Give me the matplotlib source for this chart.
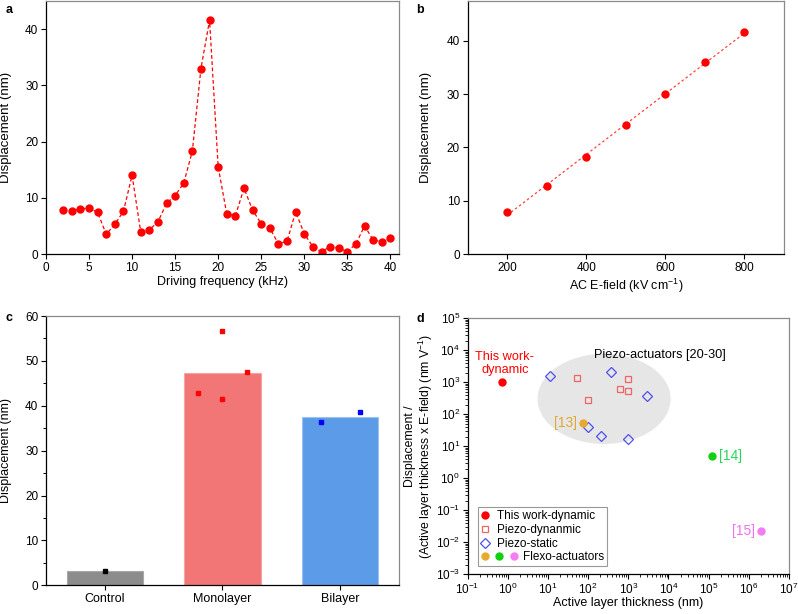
import matplotlib
matplotlib.use('Agg')
import matplotlib.pyplot as plt
import numpy as np
from matplotlib.patches import Ellipse
from matplotlib.lines import Line2D
from matplotlib.legend_handler import HandlerBase
from matplotlib.ticker import MultipleLocator, LogLocator, NullFormatter

plt.rcParams['font.family'] = ['Liberation Sans', 'DejaVu Sans']
plt.rcParams['font.size'] = 8
plt.rcParams['mathtext.fontset'] = 'custom'
plt.rcParams['mathtext.rm'] = 'Liberation Sans'
plt.rcParams['mathtext.it'] = 'Liberation Sans:italic'
plt.rcParams['mathtext.bf'] = 'Liberation Sans:bold'

# ---------------- data ----------------
# panel a
freq_khz = [2, 3, 4, 5, 6, 7, 8, 9, 10, 11, 12, 13, 14, 15, 16, 17, 18, 19, 20,
            21, 22, 23, 24, 25, 26, 27, 28, 29, 30, 31, 32, 33, 34, 35, 36, 37, 38, 39, 40]
disp_freq = [7.8, 7.7, 8.0, 8.2, 7.4, 3.5, 5.3, 7.6, 14.0, 4.0, 4.3, 5.7, 9.0, 10.4,
             12.6, 18.3, 33.0, 41.6, 15.5, 7.1, 6.8, 11.7, 7.8, 5.4, 4.6, 1.8, 2.3,
             7.5, 3.6, 1.3, 0.4, 1.3, 1.1, 0.4, 1.8, 5.0, 2.5, 2.2, 2.8]
# panel b
efield = [200, 300, 400, 500, 600, 700, 800]
disp_field = [7.9, 12.7, 18.2, 24.2, 30.1, 36.0, 41.6]
# panel c
bar_categories = ['Control', 'Monolayer', 'Bilayer']
bar_means = [3.3, 47.3, 37.6]
ctrl_pts = [3.2]
mono_pts = [42.8, 56.7, 41.6, 47.6]
bi_pts = [36.4, 38.7]
# panel d
this_work_x = [0.7]
this_work_y = [1000]
piezo_dyn_x = [54, 100, 620, 1000, 1000]
piezo_dyn_y = [1380, 286, 630, 1240, 525]
piezo_static_x = [11, 370, 3000, 100, 210, 1000]
piezo_static_y = [1580, 2050, 365, 40, 21, 17]
flexo_labels = ['[13]', '[14]', '[15]']
flexo_x = [74, 1.2e5, 2.0e6]
flexo_y = [55, 4.8, 0.023]

# ---------------- figure ----------------
fig = plt.figure(figsize=(7.98, 6.14), dpi=100)

LBL = 9

def style_spines(ax):
    for s in ['top', 'right']:
        ax.spines[s].set_color('#8a8a8a')
    for s in ['left', 'bottom']:
        ax.spines[s].set_color('black')
    for s in ax.spines.values():
        s.set_linewidth(0.9)
    ax.tick_params(direction='out', length=3.5, width=0.8, labelsize=8.5,
                   top=False, right=False, pad=2)

red = '#ff0000'

# panel a
axa = fig.add_axes([0.0576, 0.5863, 0.4424, 0.412])
axa.plot(freq_khz, disp_freq, ls='--', color=red, lw=0.9, marker='o', ms=5,
         mfc=red, mec=red, dashes=(3, 2))
axa.set_xlim(0, 41)
axa.set_ylim(0, 45)
axa.xaxis.set_major_locator(MultipleLocator(5))
axa.yaxis.set_major_locator(MultipleLocator(10))
axa.set_xlabel('Driving frequency (kHz)', fontsize=LBL)
axa.set_ylabel('Displacement (nm)', fontsize=9.5)
axa.xaxis.set_label_coords(0.5, -0.087)
axa.yaxis.set_label_coords(-0.095, 0.5)
style_spines(axa)

# panel b
axb = fig.add_axes([0.586, 0.5863, 0.3964, 0.412])
coef = np.polyfit(efield, disp_field, 1)
xf = np.array([efield[0], efield[-1]])
axb.plot(xf, np.polyval(coef, xf), ls=(0, (2, 2)), color='#ff4040', lw=0.9)
axb.plot(efield, disp_field, ls='', marker='o', ms=5, color=red)
axb.set_xlim(100, 900)
axb.set_ylim(0, 47.5)
axb.xaxis.set_major_locator(MultipleLocator(200))
axb.yaxis.set_major_locator(MultipleLocator(10))
axb.set_xlabel('AC E-field (kV cm$^{-1}$)', fontsize=LBL)
axb.set_ylabel('Displacement (nm)', fontsize=9.5)
axb.xaxis.set_label_coords(0.5, -0.09)
axb.yaxis.set_label_coords(-0.112, 0.5)
style_spines(axb)

# panel c
axc = fig.add_axes([0.0576, 0.0467, 0.4424, 0.4386])
xpos = np.arange(len(bar_categories))
bar_colors = ['#8c8c8c', '#f27676', '#5c9be8']
bar_edges = ['#a8a8a8', '#f6a3a3', '#9cc2f0']
axc.bar(xpos, bar_means, width=0.65, color=bar_colors, edgecolor=bar_edges, lw=0.8)
axc.plot([xpos[0]] * len(ctrl_pts), ctrl_pts, 's', color='black', ms=3.5)
axc.plot(xpos[1] + np.array([-0.21, 0.0, 0.0, 0.21]), mono_pts, 's', color=red, ms=3.5)
axc.plot(xpos[2] + np.array([-0.16, 0.165]), bi_pts, 's', color='#0000ff', ms=3.5)
axc.set_xlim(-0.5, 2.5)
axc.set_ylim(0, 60)
axc.set_xticks(xpos)
axc.yaxis.set_major_locator(MultipleLocator(10))
axc.yaxis.set_minor_locator(MultipleLocator(5))
style_spines(axc)
axc.set_xticklabels(bar_categories, fontsize=9)
axc.tick_params(axis='y', which='minor', length=2, width=0.7, direction='out')
axc.set_ylabel('Displacement (nm)', fontsize=9)
axc.yaxis.set_label_coords(-0.097, 0.5)

# panel d
axd = fig.add_axes([0.586, 0.0647, 0.4027, 0.417])
axd.set_xscale('log')
axd.set_yscale('log')
axd.set_xlim(1e-1, 1e7)
axd.set_ylim(1e-3, 1e5)
ell = Ellipse((0.4246, 0.685), 0.414, 0.352, transform=axd.transAxes,
              facecolor='#e6e6e6', edgecolor='none', zorder=0)
axd.add_patch(ell)
h1, = axd.plot(this_work_x, this_work_y, 'o', color=red, ms=5, zorder=3)
h2, = axd.plot(piezo_dyn_x, piezo_dyn_y, 's', mfc='none', mec='#f06464', ms=5,
               mew=0.9, zorder=3)
h3, = axd.plot(piezo_static_x, piezo_static_y, 'D', mfc='none', mec='#4f4fef', ms=5,
               mew=0.9, zorder=3)
flexo_colors = ['#e8a92e', '#10d010', '#f47cf4']
flexo_text_colors = ['#e0a82e', '#22d85a', '#f070f0']
for i in range(3):
    axd.plot([flexo_x[i]], [flexo_y[i]], 'o', color=flexo_colors[i], ms=5, zorder=3)
axd.annotate(flexo_labels[0], (flexo_x[0], flexo_y[0]), xytext=(-4, 0),
             textcoords='offset points', ha='right', va='center', fontsize=10,
             color=flexo_text_colors[0])
axd.annotate(flexo_labels[1], (flexo_x[1], flexo_y[1]), xytext=(5, 0),
             textcoords='offset points', ha='left', va='center', fontsize=10,
             color=flexo_text_colors[1])
axd.annotate(flexo_labels[2], (flexo_x[2], flexo_y[2]), xytext=(-4, 0),
             textcoords='offset points', ha='right', va='center', fontsize=10,
             color=flexo_text_colors[2])
axd.text(0.85, 3900, 'This work-\ndynamic', color=red, ha='center', va='center',
         fontsize=9.2, linespacing=1.1)
axd.text(6100, 7300, 'Piezo-actuators [20-30]', color='black', ha='center',
         va='center', fontsize=9.2)

axd.xaxis.set_major_locator(LogLocator(base=10, numticks=20))
axd.yaxis.set_major_locator(LogLocator(base=10, numticks=20))
axd.xaxis.set_minor_locator(LogLocator(base=10, subs=np.arange(2, 10), numticks=20))
axd.yaxis.set_minor_locator(LogLocator(base=10, subs=np.arange(2, 10), numticks=20))
axd.xaxis.set_minor_formatter(NullFormatter())
axd.yaxis.set_minor_formatter(NullFormatter())
style_spines(axd)
axd.tick_params(which='minor', length=2, width=0.6, direction='out')
axd.set_xlabel('Active layer thickness (nm)', fontsize=LBL)
axd.set_ylabel('Displacement /\n(Active layer thickness x E-field) (nm V$^{-1}$)',
               fontsize=8.8, linespacing=1.05)
axd.xaxis.set_label_coords(0.5, -0.09)
axd.yaxis.set_label_coords(-0.102, 0.5)


class FlexoHandler(HandlerBase):
    def create_artists(self, legend, orig_handle, xdescent, ydescent, width,
                       height, fontsize, trans):
        arts = []
        x0 = width / 2 - xdescent
        y0 = height / 2 - ydescent
        step = 1.2 * fontsize
        for i, c in enumerate(flexo_colors):
            ln = Line2D([x0 + i * step], [y0], marker='o', ls='', color=c, ms=5)
            ln.set_transform(trans)
            arts.append(ln)
        return arts


flexo_handle = object()
leg = axd.legend([h1, h2, h3, flexo_handle],
                 ['This work-dynamic', 'Piezo-dynanmic', 'Piezo-static',
                  '        Flexo-actuators'],
                 handler_map={flexo_handle.__class__: FlexoHandler()},
                 loc='lower left', bbox_to_anchor=(0.02, 0.017), fontsize=8.5,
                 frameon=True, fancybox=False, edgecolor='#999999',
                 handlelength=0.8, handletextpad=0.6, labelspacing=0.15,
                 borderpad=0.25, borderaxespad=0.3, framealpha=1)
leg.get_frame().set_linewidth(0.8)

# panel labels
fig.text(0.007, 0.983, 'a', fontsize=9, fontweight='bold', va='center')
fig.text(0.522, 0.983, 'b', fontsize=9, fontweight='bold', va='center')
fig.text(0.007, 0.482, 'c', fontsize=9, fontweight='bold', va='center')
fig.text(0.522, 0.480, 'd', fontsize=9, fontweight='bold', va='center')

fig.savefig('out.png', dpi=100)
